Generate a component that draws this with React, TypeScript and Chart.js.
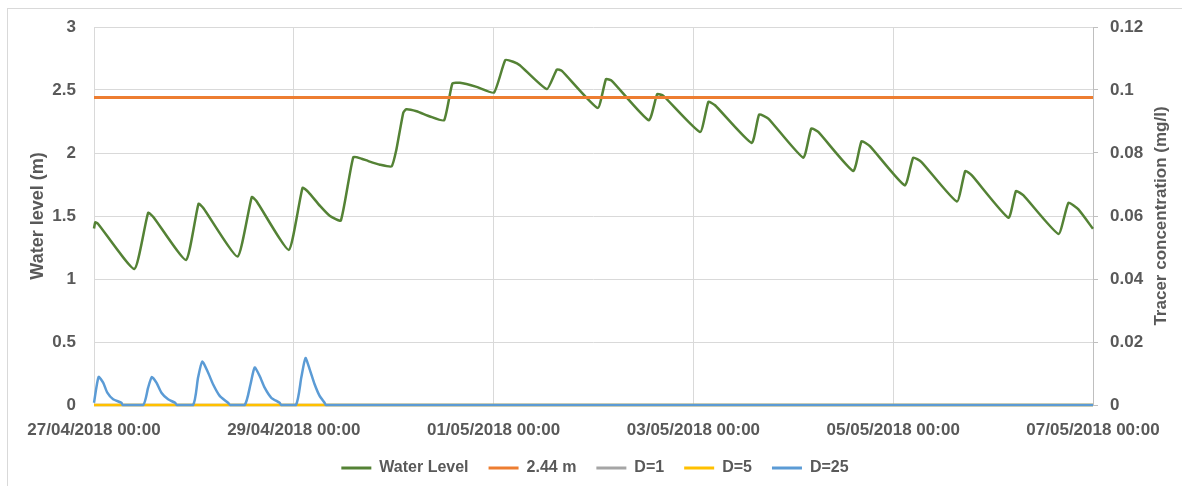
import React, { useEffect, useRef } from "react";
import { Chart, registerables } from "chart.js";

Chart.register(...registerables);

// ---- data ----
const BASE_DATE_UTC = Date.UTC(2018, 3, 27, 0, 0); // 27/04/2018 00:00
const xTickHours = [0, 48, 96, 144, 192, 240];

const waterHours = [
  0, 0.3, 1.0, 9.7, 13.0, 14.3, 22.1, 25.1, 26.3, 34.5, 37.9, 39.1, 46.8,
  50.1, 51.5, 54.3, 56.7, 59.3, 62.3, 64.3, 65.9, 68.7, 71.5, 72.6, 74.3,
  75.0, 77.5, 80.7, 84.1, 86.1, 87.9, 91.9, 96.1, 98.8, 100.7, 102.3, 108.8,
  111.2, 112.4, 121.0, 123.0, 124.4, 133.3, 135.3, 136.8, 145.6, 147.6, 149.2,
  158.0, 159.8, 162.0, 170.4, 172.3, 174.0, 182.4, 184.4, 186.4, 194.8, 196.8,
  198.8, 207.3, 209.3, 210.9, 219.7, 221.5, 223.3, 231.7, 234.1, 236.5, 240,
];
const waterLevel = [
  1.4, 1.45, 1.437, 1.08, 1.525, 1.49, 1.151, 1.597, 1.562, 1.178, 1.65, 1.615,
  1.231, 1.724, 1.69, 1.58, 1.5, 1.464, 1.968, 1.955, 1.936, 1.907, 1.894,
  2.02, 2.32, 2.347, 2.331, 2.29, 2.26, 2.552, 2.557, 2.525, 2.48, 2.737,
  2.724, 2.697, 2.507, 2.663, 2.652, 2.358, 2.586, 2.573, 2.26, 2.467, 2.453,
  2.167, 2.406, 2.379, 2.08, 2.305, 2.273, 1.963, 2.194, 2.167, 1.857, 2.093,
  2.055, 1.743, 1.963, 1.928, 1.615, 1.857, 1.822, 1.486, 1.698, 1.663, 1.358,
  1.605, 1.552, 1.398,
];

const thresholdHours = [0, 240];
const thresholdLevel = [2.44, 2.44];

const d1Hours = [0, 240];
const d1Conc = [0, 0];

const d5Hours = [0, 240];
const d5Conc = [0, 0];

const d25Hours = [
  0, 1.1, 2.2, 3.2, 4.6, 6.6, 6.9,
  11.8, 13.0, 13.9, 15.0, 16.2, 17.8, 19.5, 19.9,
  23.8, 25.0, 26.0, 27.4, 28.6, 30.2, 32.2, 32.7,
  36.2, 37.6, 38.6, 39.8, 41.0, 42.6, 44.6, 45.0,
  48.5, 49.8, 50.8, 51.8, 53.0, 54.2, 55.4, 55.7,
  240,
];
const d25Conc = [
  0.0007, 0.0089, 0.0071, 0.0039, 0.0018, 0.0007, 0,
  0, 0.0055, 0.0089, 0.0071, 0.0039, 0.0018, 0.0007, 0,
  0, 0.0087, 0.0138, 0.0103, 0.0066, 0.0029, 0.0007, 0,
  0, 0.0066, 0.0119, 0.0092, 0.0055, 0.0023, 0.0007, 0,
  0, 0.0087, 0.0149, 0.0114, 0.0066, 0.0029, 0.0007, 0,
  0,
];

const pts = (xs: number[], ys: number[]) => xs.map((x, i) => ({ x, y: ys[i] }));

const pad = (n: number) => String(n).padStart(2, "0");
function formatHour(h: number): string {
  const d = new Date(BASE_DATE_UTC + h * 3600000);
  return `${pad(d.getUTCDate())}/${pad(d.getUTCMonth() + 1)}/${d.getUTCFullYear()} ${pad(
    d.getUTCHours()
  )}:${pad(d.getUTCMinutes())}`;
}
const formatNum = (v: any) => String(Number(Number(v).toFixed(3)));

const FONT = "'Liberation Sans', Arial, sans-serif";
const TEXT = "#595959";
const GRID = "#d9d9d9";

const rightTitlePlugin = {
  id: "rightTitle",
  afterDraw(chart: any) {
    const { ctx, chartArea } = chart;
    ctx.save();
    ctx.translate(1153, (chartArea.top + chartArea.bottom) / 2);
    ctx.rotate(-Math.PI / 2);
    ctx.font = `bold 17px ${FONT}`;
    ctx.fillStyle = TEXT;
    ctx.textAlign = "center";
    ctx.textBaseline = "middle";
    ctx.fillText("Tracer concentration (mg/l)", 0, 0);
    ctx.restore();
  },
};

const fixVertical = (w: number) => (scale: any) => {
  scale.width = w;
  scale.paddingTop = 0;
  scale.paddingBottom = 0;
};

export default function App() {
  const ref = useRef<HTMLCanvasElement | null>(null);

  useEffect(() => {
    if (!ref.current) return;
    const chart = new Chart(ref.current, {
      type: "line",
      data: {
        datasets: [
          {
            label: "Water Level",
            data: pts(waterHours, waterLevel),
            borderColor: "#548235",
            backgroundColor: "#548235",
            borderWidth: 2.5,
            pointRadius: 0,
            tension: 0.15,
            yAxisID: "y",
            order: 5,
            clip: false,
          },
          {
            label: "2.44 m",
            data: pts(thresholdHours, thresholdLevel),
            borderColor: "#ED7D31",
            backgroundColor: "#ED7D31",
            borderWidth: 3,
            pointRadius: 0,
            yAxisID: "y",
            order: 4,
            clip: false,
          },
          {
            label: "D=1",
            data: pts(d1Hours, d1Conc),
            borderColor: "#A5A5A5",
            backgroundColor: "#A5A5A5",
            borderWidth: 2.5,
            pointRadius: 0,
            yAxisID: "y1",
            order: 3,
            clip: false,
          },
          {
            label: "D=5",
            data: pts(d5Hours, d5Conc),
            borderColor: "#FFC000",
            backgroundColor: "#FFC000",
            borderWidth: 2.5,
            pointRadius: 0,
            yAxisID: "y1",
            order: 2,
            clip: false,
          },
          {
            label: "D=25",
            data: pts(d25Hours, d25Conc),
            borderColor: "#5B9BD5",
            backgroundColor: "#5B9BD5",
            borderWidth: 2.5,
            pointRadius: 0,
            tension: 0.2,
            yAxisID: "y1",
            order: 1,
            clip: false,
          },
        ],
      },
      options: {
        responsive: false,
        animation: false,
        layout: { padding: { top: 18, left: 0, right: 0, bottom: 0 } },
        font: { family: FONT },
        scales: {
          x: {
            type: "linear",
            min: 0,
            max: 240,
            afterBuildTicks: (scale: any) => {
              scale.ticks = xTickHours.map((v) => ({ value: v }));
            },
            afterFit: (scale: any) => {
              scale.height = 35;
              scale.paddingLeft = 0;
              scale.paddingRight = 0;
            },
            ticks: {
              autoSkip: false,
              maxRotation: 0,
              padding: 15,
              color: TEXT,
              font: { family: FONT, size: 17, weight: "bold" },
              callback: (v: any) => formatHour(Number(v)),
            },
            grid: { color: GRID, lineWidth: 1, drawTicks: false },
            border: { display: false },
          },
          y: {
            position: "left",
            min: 0,
            max: 3,
            ticks: {
              stepSize: 0.5,
              padding: 18,
              color: TEXT,
              font: { family: FONT, size: 17, weight: "bold" },
              callback: formatNum,
            },
            afterFit: fixVertical(86),
            grid: { color: GRID, lineWidth: 1, drawTicks: false },
            border: { display: false },
            title: {
              display: true,
              text: "Water level (m)",
              color: TEXT,
              font: { family: FONT, size: 18, weight: "bold" },
              padding: { top: 19, bottom: 0 },
            },
          },
          y1: {
            position: "right",
            min: 0,
            max: 0.12,
            ticks: {
              stepSize: 0.02,
              padding: 12,
              color: TEXT,
              font: { family: FONT, size: 17, weight: "bold" },
              callback: formatNum,
            },
            afterFit: fixVertical(89),
            grid: {
              drawOnChartArea: false,
              drawTicks: true,
              tickLength: 5,
              color: "#bfbfbf",
            },
            border: { display: true, color: "#bfbfbf", width: 1 },
          },
        },
        plugins: {
          legend: {
            position: "bottom",
            labels: {
              boxWidth: 30,
              boxHeight: 3,
              padding: 20,
              color: TEXT,
              font: { family: FONT, size: 16, weight: "bold" },
              sort: (a: any, b: any) => a.datasetIndex - b.datasetIndex,
              generateLabels: (chart: any) =>
                Chart.defaults.plugins.legend.labels
                  .generateLabels(chart)
                  .map((item: any) => ({ ...item, lineWidth: 0 })),
            },
          },
          tooltip: { enabled: false },
        },
      },
      plugins: [rightTitlePlugin],
    } as any);
    return () => chart.destroy();
  }, []);

  return (
    <div
      style={{
        position: "absolute",
        left: 7,
        top: 8,
        width: 1175,
        height: 478,
        boxSizing: "border-box",
        borderLeft: "1px solid #d9d9d9",
        borderTop: "1px solid #d9d9d9",
        background: "#ffffff",
      }}
    >
      <canvas ref={ref} width={1174} height={477} style={{ display: "block" }} />
    </div>
  );
}
